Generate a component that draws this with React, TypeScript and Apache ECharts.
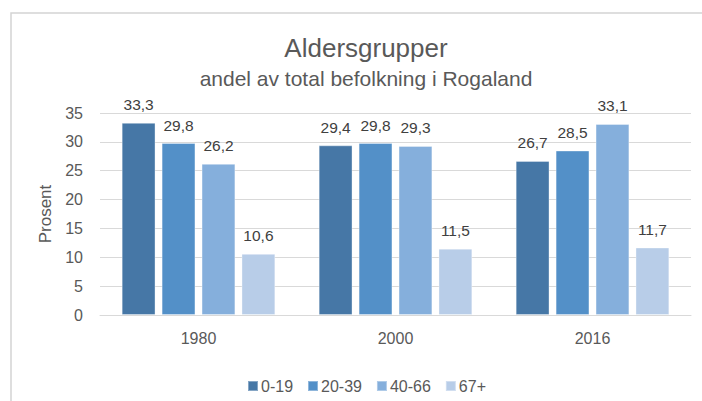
import React, { useEffect, useRef } from "react";
import * as echarts from "echarts";

const categories = ["1980", "2000", "2016"];
const seriesNames = ["0-19", "20-39", "40-66", "67+"];
const values0_19 = [33.3, 29.4, 26.7];
const values20_39 = [29.8, 29.8, 28.5];
const values40_66 = [26.2, 29.3, 33.1];
const values67 = [10.6, 11.5, 11.7];
const colors = ["#4677A6", "#5390C8", "#85AFDC", "#B8CDE8"];
const yTicks = [0, 5, 10, 15, 20, 25, 30, 35];

const FONT = "'Liberation Sans', Arial, sans-serif";
const TEXT = "#595959";

export default function App() {
  const ref = useRef<HTMLDivElement>(null);
  useEffect(() => {
    document.body.style.margin = "0";
    const chart = echarts.init(ref.current!, null, { renderer: "svg" });
    const all = [values0_19, values20_39, values40_66, values67];
    chart.setOption({
      animation: false,
      backgroundColor: "#ffffff",
      textStyle: { fontFamily: FONT },
      title: [
        {
          text: "Aldersgrupper",
          left: 361,
          top: 30,
          textAlign: "center",
          textStyle: { fontFamily: FONT, fontSize: 26, fontWeight: "normal", color: TEXT },
        },
        {
          text: "andel av total befolkning i Rogaland",
          left: 361,
          top: 63,
          textAlign: "center",
          textStyle: { fontFamily: FONT, fontSize: 21, fontWeight: "normal", color: TEXT },
        },
      ],
      graphic: [
        {
          type: "rect",
          shape: { x: 11, y: 13, width: 720, height: 420 },
          style: { fill: "none", stroke: "#D4D4D4", lineWidth: 1.5 },
          silent: true,
        },
      ],
      legend: {
        data: seriesNames,
        left: 242,
        top: 373,
        itemWidth: 10,
        itemHeight: 10,
        itemGap: 14,
        icon: "rect",
        textStyle: { fontFamily: FONT, fontSize: 16, color: TEXT, padding: [0, 0, 0, -2] },
      },
      grid: { left: 100, right: 11, top: 113, bottom: 86, containLabel: false },
      xAxis: {
        type: "category",
        data: categories,
        axisLine: { lineStyle: { color: "#D9D9D9", width: 1 } },
        axisTick: { show: false },
        axisLabel: { color: TEXT, fontSize: 16, margin: 15, fontFamily: FONT },
      },
      yAxis: {
        type: "value",
        min: 0,
        max: 35,
        interval: 5,
        name: "Prosent",
        nameLocation: "middle",
        nameGap: 42,
        nameRotate: 90,
        nameTextStyle: { color: TEXT, fontSize: 17, fontFamily: FONT },
        axisLine: { show: false },
        axisTick: { show: false },
        splitLine: { lineStyle: { color: "#D9D9D9", width: 1 } },
        axisLabel: {
          color: TEXT,
          fontSize: 16,
          margin: 17,
          fontFamily: FONT,
          formatter: (v: number) => (yTicks.includes(v) ? String(v) : ""),
        },
      },
      series: seriesNames.map((name, i) => ({
        name,
        type: "bar",
        data: all[i],
        barGap: "18%",
        barCategoryGap: "22%",
        itemStyle: { color: colors[i], borderColor: "rgba(255,255,255,0.35)", borderWidth: 1 },
        label: {
          show: true,
          position: "top",
          distance: 10,
          color: "#404040",
          fontSize: 15.5,
          fontFamily: FONT,
          formatter: (p: any) => String(p.value).replace(".", ","),
        },
      })),
    });
    return () => chart.dispose();
  }, []);
  return <div ref={ref} style={{ width: 702, height: 401 }} />;
}
